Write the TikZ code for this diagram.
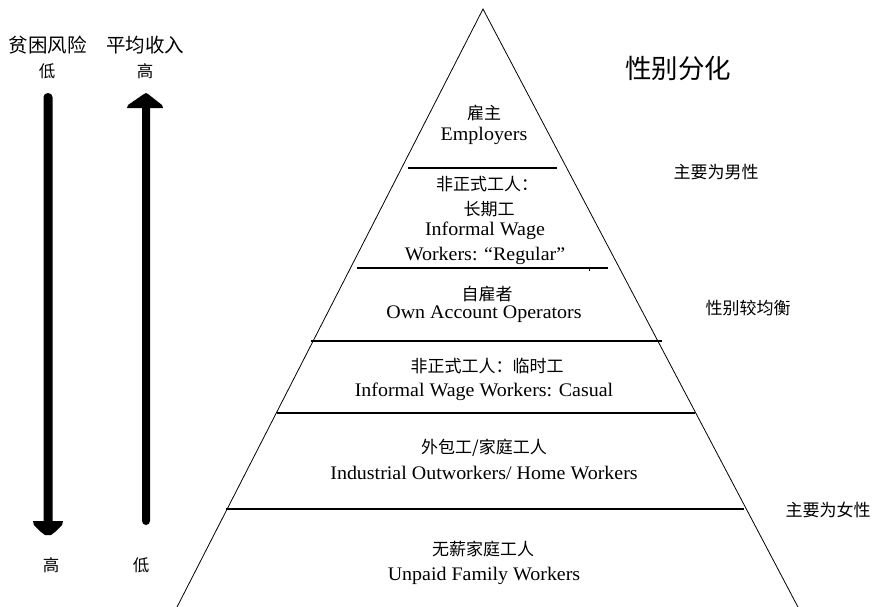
\documentclass[tikz,border=0pt]{standalone}
\usepackage{fontspec}
\setmainfont{Liberation Serif}[FakeStretch=1.04]
\newfontfamily\cjk{Noto Sans CJK SC}
\begin{document}
\begin{tikzpicture}[x=1pt,y=-1pt,
  edge/.style={line width=0.8pt,black},
  tier/.style={line width=1.6pt,black},
  zh/.style={inner sep=0pt,anchor=center,font=\cjk\fontsize{17}{20}\selectfont},
  en/.style={inner sep=0pt,anchor=base,font=\fontsize{19.2}{22}\selectfont},
  side/.style={inner sep=0pt,anchor=center,font=\cjk\fontsize{17}{20}\selectfont},
  head/.style={inner sep=0pt,anchor=center,font=\cjk\fontsize{19.5}{22}\selectfont},
  lvl/.style={inner sep=0pt,anchor=center,font=\cjk\fontsize{16.5}{18}\selectfont},
  arrowfill/.style={fill=black,draw=none}]
\useasboundingbox (0,0) rectangle (881,606);
% pyramid
\coordinate (apex) at (483,9);
\coordinate (bl) at (176,609);
\coordinate (br) at (799,609);
\draw[edge] (bl) -- (apex) -- (br);
% tier lines
\coordinate (l1a) at (408,168); \coordinate (l1b) at (557,168);
\coordinate (l2a) at (357,268); \coordinate (l2b) at (608,268);
\coordinate (l3a) at (311,341); \coordinate (l3b) at (662,341);
\coordinate (l4a) at (277,413); \coordinate (l4b) at (695,413);
\coordinate (l5a) at (226,509); \coordinate (l5b) at (744,509);
\draw[tier] (l1a) -- (l1b);
\draw[tier] (l2a) -- (l2b);
\draw[tier] (l3a) -- (l3b);
\draw[tier] (l4a) -- (l4b);
\draw[tier] (l5a) -- (l5b);
\coordinate (tk1) at (589,268); \coordinate (tk2) at (589,271);
\draw[line width=0.8pt] (tk1) -- (tk2);
% tier texts
\node[zh] (t1z) at (484,113) {雇主};
\node[en] (t1e) at (484,140) {Employers};
\node[zh] (t2z) at (487,184) {非正式工人：};
\node[zh] (t2y) at (489,209) {长期工};
\node[en] (t2e) at (485,235) {Informal Wage};
\node[en] (t2f) at (485,260) {Workers: “Regular”};
\node[zh] (t3z) at (487,294) {自雇者};
\node[en] (t3e) at (484,318) {Own Account Operators};
\node[zh] (t4z) at (487,366) {非正式工人：临时工};
\node[en] (t4e) at (484,396) {Informal Wage Workers: Casual};
\node[zh] (t5z) at (484,448) {外包工/家庭工人};
\node[en] (t5e) at (484,479) {Industrial Outworkers/ Home Workers};
\node[zh] (t6z) at (483,549) {无薪家庭工人};
\node[en] (t6e) at (484,580) {Unpaid Family Workers};
% right labels
\node[inner sep=0pt,font=\cjk\fontsize{26.5}{30}\selectfont] (title) at (678,68) {性别分化};
\node[side] (male) at (716,172) {主要为男性};
\node[side] (bal) at (748,308) {性别较均衡};
\node[side] (fem) at (828,510) {主要为女性};
% left labels
\node[head] (pov) at (48,45) {贫困风险};
\node[head] (inc) at (145,45) {平均收入};
\node[lvl] (povlo) at (47,71) {低};
\node[lvl] (inchi) at (145,71) {高};
\node[lvl] (povhi) at (51,565) {高};
\node[lvl] (inclo) at (141,565) {低};
% down arrow (poverty risk)
\fill[arrowfill] (43.5,97) arc[start angle=180,end angle=0,x radius=4.5pt,y radius=4pt] -- (52.5,522) -- (43.5,522) -- cycle;
\fill[arrowfill] (33,521) -- (63,521) -- (62,525) -- (55,532) -- (51,535) -- (45,535) -- (41,532) -- (34,525) -- cycle;
% up arrow (income)
\fill[arrowfill] (142,107) -- (150,107) -- (150,521) arc[start angle=0,end angle=-180,x radius=4pt,y radius=4pt] -- cycle;
\fill[arrowfill] (146,93) -- (148,94) -- (162,105) -- (163,108) -- (127,108) -- (128,105) -- (144,94) -- cycle;
\end{tikzpicture}
\end{document}
